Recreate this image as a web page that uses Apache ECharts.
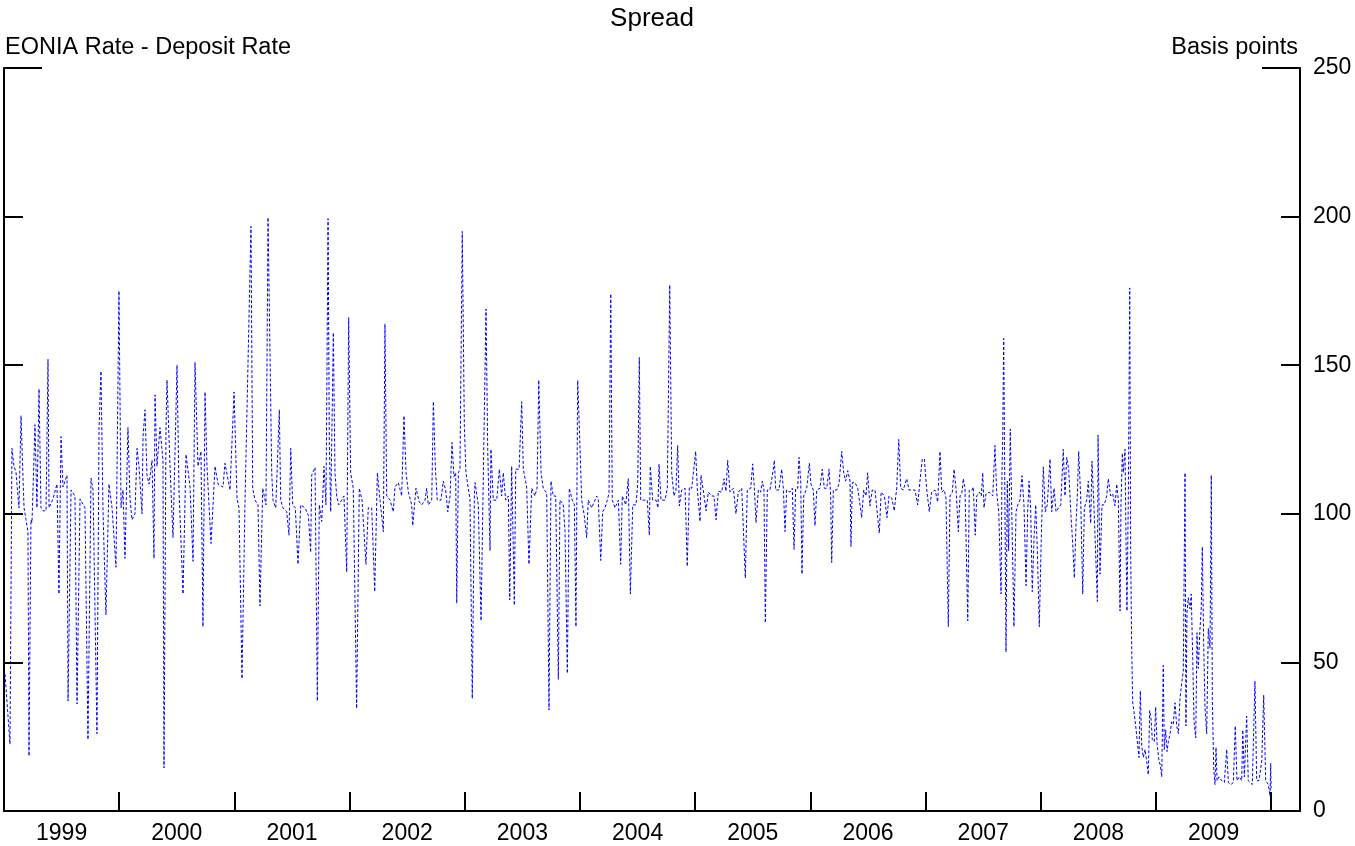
<!DOCTYPE html>
<html>
<head>
<meta charset="utf-8">
<script src="https://cdn.jsdelivr.net/npm/echarts@6/dist/echarts.min.js"></script>
<style>html,body{margin:0;padding:0;background:#fff;}#c{width:1355px;height:846px;}</style>
</head>
<body>
<div id="c"></div>
<script>
// Decimal years (time position of each reading)
const years = [
1999.009,1999.052,1999.069,1999.087,1999.104,1999.130,1999.148,1999.165,1999.174,1999.191,1999.208,1999.217,1999.234,1999.243,1999.269,1999.286,1999.304,1999.321,1999.339,1999.365,1999.382,1999.391,1999.425,1999.460,1999.477,1999.495,1999.512,1999.547,1999.556,1999.582,1999.616,1999.634,1999.660,1999.703,1999.729,1999.755,1999.773,1999.807,1999.825,1999.842,1999.859,1999.868,1999.885,1999.911,1999.938,1999.972,1999.998,
2000.016,2000.033,2000.050,2000.076,2000.094,2000.111,2000.137,2000.155,2000.172,2000.198,2000.207,2000.224,2000.241,2000.259,2000.285,2000.302,2000.311,2000.328,2000.354,2000.380,2000.389,2000.406,2000.415,2000.441,2000.467,2000.502,2000.519,2000.554,2000.580,2000.615,2000.641,2000.658,2000.684,2000.710,2000.727,2000.745,2000.762,2000.797,2000.832,2000.858,2000.901,2000.918,2000.962,2000.997,
2001.023,2001.040,2001.066,2001.092,2001.144,2001.159,2001.179,2001.205,2001.222,2001.246,2001.274,2001.292,2001.324,2001.335,2001.359,2001.390,2001.402,2001.422,2001.454,2001.474,2001.489,2001.506,2001.529,2001.552,2001.576,2001.613,2001.642,2001.662,2001.671,2001.700,2001.720,2001.737,2001.758,2001.778,2001.795,2001.813,2001.824,2001.836,2001.859,2001.873,2001.888,2001.905,2001.931,2001.951,2001.975,2001.992,
2002.009,2002.032,2002.061,2002.084,2002.108,2002.142,2002.162,2002.192,2002.218,2002.241,2002.264,2002.293,2002.307,2002.322,2002.351,2002.379,2002.394,2002.423,2002.452,2002.472,2002.490,2002.510,2002.539,2002.548,2002.576,2002.605,2002.626,2002.655,2002.669,2002.683,2002.713,2002.727,2002.744,2002.761,2002.793,2002.813,2002.834,2002.852,2002.872,2002.889,2002.906,2002.921,2002.930,2002.944,2002.958,2002.978,2002.996,
2003.010,2003.030,2003.045,2003.065,2003.083,2003.089,2003.117,2003.141,2003.158,2003.184,2003.199,2003.219,2003.227,2003.247,2003.277,2003.300,2003.320,2003.334,2003.355,2003.378,2003.390,2003.407,2003.430,2003.442,2003.471,2003.494,2003.508,2003.537,2003.557,2003.581,2003.609,2003.627,2003.642,2003.662,2003.681,2003.711,2003.731,2003.748,2003.768,2003.789,2003.812,2003.826,2003.855,2003.870,2003.890,2003.907,2003.933,2003.951,2003.965,2003.980,2003.994,
2004.015,2004.037,2004.058,2004.072,2004.102,2004.116,2004.145,2004.159,2004.180,2004.197,2004.217,2004.237,2004.252,2004.267,2004.280,2004.304,2004.333,2004.353,2004.367,2004.397,2004.419,2004.437,2004.458,2004.486,2004.501,2004.515,2004.527,2004.556,2004.584,2004.602,2004.610,2004.631,2004.660,2004.677,2004.686,2004.703,2004.738,2004.758,2004.779,2004.796,2004.816,2004.833,2004.848,2004.862,2004.883,2004.912,2004.931,2004.949,2004.970,2004.984,
2005.004,2005.018,2005.042,2005.050,2005.070,2005.094,2005.114,2005.143,2005.163,2005.181,2005.201,2005.230,2005.250,2005.267,2005.282,2005.302,2005.331,2005.354,2005.374,2005.404,2005.418,2005.435,2005.452,2005.482,2005.499,2005.513,2005.528,2005.548,2005.568,2005.583,2005.597,2005.609,2005.626,2005.649,2005.678,2005.687,2005.699,2005.727,2005.751,2005.765,2005.780,2005.794,2005.823,2005.843,2005.858,2005.872,2005.890,2005.901,2005.916,2005.927,2005.942,2005.968,2005.991,
2006.005,2006.025,2006.040,2006.055,2006.083,2006.103,2006.121,2006.142,2006.162,2006.176,2006.185,2006.199,2006.228,2006.248,2006.272,2006.289,2006.306,2006.324,2006.344,2006.352,2006.364,2006.387,2006.411,2006.431,2006.445,2006.463,2006.483,2006.497,2006.517,2006.537,2006.561,2006.576,2006.598,2006.614,2006.642,2006.665,2006.682,2006.706,2006.728,2006.749,2006.767,2006.784,2006.806,2006.836,2006.856,2006.879,2006.908,2006.931,2006.951,2006.971,2006.989,
2007.010,2007.032,2007.053,2007.082,2007.105,2007.125,2007.140,2007.162,2007.177,2007.197,2007.212,2007.232,2007.247,2007.264,2007.284,2007.299,2007.316,2007.327,2007.342,2007.366,2007.379,2007.403,2007.414,2007.431,2007.444,2007.466,2007.484,2007.496,2007.507,2007.524,2007.553,2007.583,2007.602,2007.617,2007.635,2007.655,2007.663,2007.669,2007.678,2007.689,2007.698,2007.709,2007.721,2007.735,2007.750,2007.767,2007.785,2007.800,2007.819,2007.837,2007.854,2007.872,2007.886,2007.898,2007.912,2007.926,2007.941,2007.956,2007.970,2007.987,
2008.004,2008.022,2008.039,2008.056,2008.080,2008.095,2008.115,2008.132,2008.155,2008.173,2008.195,2008.210,2008.225,2008.242,2008.260,2008.277,2008.291,2008.306,2008.317,2008.329,2008.346,2008.364,2008.378,2008.398,2008.412,2008.433,2008.444,2008.462,2008.479,2008.491,2008.497,2008.514,2008.531,2008.551,2008.572,2008.586,2008.606,2008.624,2008.644,2008.659,2008.673,2008.688,2008.696,2008.708,2008.716,2008.731,2008.740,2008.748,2008.760,2008.772,2008.780,2008.789,2008.798,2008.812,2008.824,2008.841,2008.852,2008.864,2008.876,2008.890,2008.905,2008.919,2008.933,2008.945,2008.957,2008.968,2008.985,2008.997,
2009.009,2009.026,2009.037,2009.050,2009.063,2009.072,2009.084,2009.096,2009.107,2009.122,2009.136,2009.150,2009.165,2009.180,2009.194,2009.208,2009.223,2009.237,2009.252,2009.260,2009.269,2009.280,2009.295,2009.306,2009.319,2009.330,2009.345,2009.356,2009.367,2009.382,2009.393,2009.402,2009.414,2009.425,2009.440,2009.454,2009.469,2009.480,2009.489,2009.501,2009.512,2009.521,2009.530,2009.547,2009.570,2009.593,2009.614,2009.628,2009.651,2009.671,2009.688,2009.703,2009.723,2009.744,2009.753,2009.767,2009.787,2009.801,2009.816,2009.836,2009.859,2009.874,2009.894,2009.918,2009.935,2009.952,2009.975,2009.990,2009.996,2009.999
];
// EONIA minus deposit rate, basis points
const spread = [
46,22.5,122,116,114,102,133,112,102,98,94,18.5,98,97,130,102,142,102,101,101,152,102,105,110,73,126,109,113,37,108,106,36,105,102,24,112,108,26,129,148,102,89,66,110,102,82,175,
102,108,85,129,105,98,100,122,116,100,126,135,113,110,118,85,140,116,129,118,14.5,128,145,116,92,150,108,73,120,109,84,151,116,121,62,141,116,90,116,110,109,117,108,141,
105,102,44.5,104,196.7,108.6,104.6,103,69,108.6,103,199.7,113.8,104.6,102,135,104.6,102,100.7,92.8,122,103,102,83,103,102,99.4,87,113,115.6,37,103,97.4,116,103,199.3,124,100.7,161,113.8,106,103,104.6,106,80.4,166,
113.8,108.6,34.5,108.6,104.6,83,102,102,73.8,113.8,104.6,94,163.9,106,104.6,100.7,109,110.5,106,133,113.8,107.3,103,96,108.6,104,103,104.6,108.6,103,104.6,137.8,116,104.6,104.6,111,108,100.7,106,124,112.5,113.8,69.9,113.8,115,195,129.5,
113.8,108.6,105,37.8,106,110.5,103,64,106,168.9,121.7,87.6,121.7,104.6,104.6,115,106,113.8,104.6,106,71,116,69.2,115,115,137.7,115,109,83,108.6,106,108.6,145,113.8,108.6,107,34,111,106,106,44.3,104.6,103,94,46.3,108.6,104.6,103,62,144.9,129.5,
104.6,99.4,92,104.6,102,102,106,104.6,84.3,100.7,102,104.6,107,174,104.6,102,104.6,83,106,103,111.8,73,103,103,110,152.6,104.6,104.6,104.6,92.8,116,104.6,104.6,102,116.7,104.6,104.6,108.6,177,113.8,106,108,123,102.6,108,108.6,82.3,109,108.6,108,
121,108.6,97.4,113,108,101,107.3,106,106,98,107.6,107.3,111.8,107.6,118,107.3,108.6,100,107.3,108.6,108.6,78.4,108,108.6,116.8,109,97,108,107.3,111,108,63.3,108,108,115,118,108,108,115,108.6,94,108,107.3,108.6,88,108.6,108.6,119,111,79.7,106,108.6,117,
110,108,96,108,108.6,115,108.6,108.6,115,106,83.6,108,108,110,121,113.8,111,114.5,111,89,110.5,110.5,108.6,103,98.7,108,106,113.8,102.6,108,108,102,93.5,107.3,106,98.7,106,105.3,101,108.6,125,108.6,108,111.8,108,108,108,103,111,118.4,118.4,
108,100.7,107.3,108,104,121,107.3,108,105.3,62,106,107.3,115,108.6,94,106,107.3,111.8,108.6,64,108,108,109,92.8,106,107.3,106,113.8,102,106.7,107.3,106,123,107.3,100.7,73,113.8,124.3,159,100.7,53.5,111,87.6,128.5,96.8,62,100.7,103,104.6,112.8,103,75.8,100.7,111,102,73.8,91.5,103,87.6,62,
91.5,115.8,100.7,103,118.4,100.7,108.6,100.7,102,103,121.7,106,119,115,100.7,90,78.4,96.8,106,121,106,73,102,104.6,111,96.8,117.7,102,102,70.5,126.5,79.7,103,103,106,111.8,106,106.7,102.7,110,104.6,67.3,103,120.4,113.8,121.7,90,67.3,106,176,87.6,54.8,36.4,32.5,28.6,22,18,40.4,22,18,20.7,16.8,12.2,33.8,31,24,23.3,35,
22.7,16.8,15.5,11.5,49,20.7,27.3,20,23.3,26,30,29.2,36.4,28.6,26,37.8,43,47,113.8,28.6,66.6,71.8,68,73,51,30,24.6,60,48,61.4,68,88.9,56,35,26,61.4,54.8,113,37.8,14.2,8.9,21.4,10.2,11.5,10.2,9.6,20.7,9.6,8.9,9.6,28.6,10.2,11.5,10.2,27.3,11.5,31.9,10.2,10.8,8.9,43.7,10.2,10.2,16.8,39,10.2,8.9,5,16,7.6
];
const yTicks = [0, 50, 100, 150, 200, 250];
const titleText = 'Spread';
const leftLabel = 'EONIA Rate - Deposit Rate';
const rightLabel = 'Basis points';

const pts = years.map((y, i) => [y, spread[i]]);
const FONT = '"Liberation Sans", Arial, Helvetica, sans-serif';
const yMin = yTicks[0], yMax = yTicks[yTicks.length - 1];

const chart = echarts.init(document.getElementById('c'), null, {renderer: 'canvas'});
chart.setOption({
  animation: false,
  backgroundColor: '#fff',
  textStyle: {fontFamily: FONT},
  title: [
    {text: titleText, left: 652, top: 6, textAlign: 'center', padding: 0,
     textStyle: {fontFamily: FONT, fontSize: 26, fontWeight: 'normal', color: '#000'}},
    {text: leftLabel, left: 5, top: 36, padding: 0,
     textStyle: {fontFamily: FONT, fontSize: 23.5, fontWeight: 'normal', color: '#000'}},
    {text: rightLabel, right: 57, top: 36, padding: 0,
     textStyle: {fontFamily: FONT, fontSize: 23.5, fontWeight: 'normal', color: '#000'}}
  ],
  grid: {left: 4, right: 55, top: 68, bottom: 35, containLabel: false},
  xAxis: [
    {type: 'value', min: 1999, max: 2010.25, interval: 0.5, position: 'bottom',
     axisLine: {show: true, lineStyle: {color: '#000', width: 2}},
     axisTick: {show: false}, splitLine: {show: false},
     axisLabel: {fontFamily: FONT, fontSize: 23, color: '#000', margin: 11,
       showMinLabel: false, showMaxLabel: false,
       formatter: v => (Math.abs((v % 1) - 0.5) < 1e-6 ? String(Math.floor(v)) : '')}},
    {type: 'value', min: 1999, max: 2010.25, interval: 1, position: 'bottom',
     axisLine: {show: false},
     axisTick: {show: true, inside: true, length: 19, lineStyle: {color: '#000', width: 2}},
     axisLabel: {show: false}, splitLine: {show: false}}
  ],
  yAxis: [
    {type: 'value', position: 'right', min: yMin, max: yMax, interval: 50,
     axisLine: {show: true, lineStyle: {color: '#000', width: 2}},
     axisTick: {show: true, inside: true, length: 19, lineStyle: {color: '#000', width: 2}},
     axisLabel: {fontFamily: FONT, fontSize: 23, color: '#000', margin: 13},
     splitLine: {show: false}},
    {type: 'value', position: 'left', min: yMin, max: yMax, interval: 50,
     axisLine: {show: true, lineStyle: {color: '#000', width: 2}},
     axisTick: {show: true, inside: true, length: 19, lineStyle: {color: '#000', width: 2}},
     axisLabel: {show: false}, splitLine: {show: false}},
    // longer top ticks (at 250) on both sides
    {type: 'value', position: 'right', min: yMin, max: yMax, interval: yMax,
     axisLine: {show: false},
     axisTick: {show: true, inside: true, length: 38, lineStyle: {color: '#000', width: 2}},
     axisLabel: {show: false}, splitLine: {show: false}},
    {type: 'value', position: 'left', min: yMin, max: yMax, interval: yMax,
     axisLine: {show: false},
     axisTick: {show: true, inside: true, length: 38, lineStyle: {color: '#000', width: 2}},
     axisLabel: {show: false}, splitLine: {show: false}}
  ],
  series: [{
    type: 'line', xAxisIndex: 0, yAxisIndex: 0, data: pts,
    showSymbol: false, symbol: 'none', smooth: false,
    lineStyle: {color: '#0000ff', width: 1, type: [3, 2]},
    silent: true
  }]
});
</script>
</body>
</html>
